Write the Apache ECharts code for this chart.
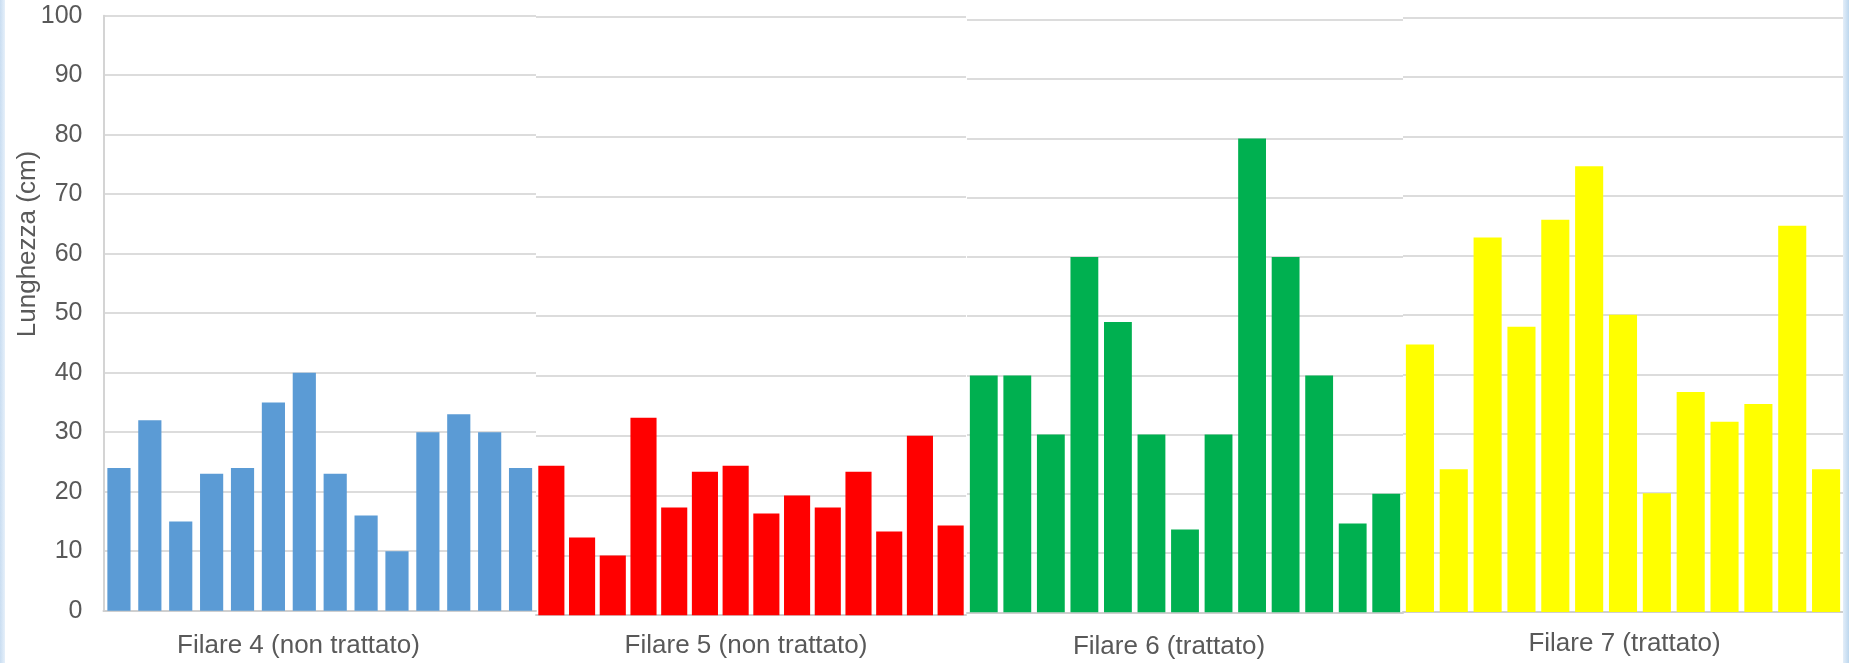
<!DOCTYPE html>
<html>
<head>
<meta charset="utf-8">
<style>
  html, body { margin: 0; padding: 0; background: #ffffff; }
  #chart { width: 1849px; height: 663px; }
</style>
<script src="https://cdn.jsdelivr.net/npm/echarts@6/dist/echarts.min.js"></script>
</head>
<body>
<div id="chart"></div>
<script>
// ---- Data ----
const groupLabels = ['Filare 4 (non trattato)', 'Filare 5 (non trattato)', 'Filare 6 (trattato)', 'Filare 7 (trattato)'];
const filare4 = [24, 32, 15, 23, 24, 35, 40, 23, 16, 10, 30, 33, 30, 24];
const filare5 = [25, 13, 10, 33, 18, 24, 25, 17, 20, 18, 24, 14, 30, 15];
const filare6 = [40, 40, 30, 60, 49, 30, 14, 30, 80, 60, 40, 15, 20];
const filare7 = [45, 24, 63, 48, 66, 75, 50, 20, 37, 32, 35, 65, 24];
const yMin = 0, yMax = 100, yInterval = 10;
const yAxisTitle = 'Lunghezza (cm)';

// ---- Layout / style (not data) ----
const seriesData = [filare4, filare5, filare6, filare7];
const colors = ['#5B9BD5', '#FF0000', '#00B050', '#FFFF00'];
const grids = [
  { left: 103.5, top: 15.7, width: 432.5, height: 595 },
  { left: 536,   top: 17.2, width: 430,   height: 598 },
  { left: 967,   top: 20,   width: 436,   height: 592.3 },
  { left: 1403,  top: 17.7, width: 440,   height: 594.3 }
];
const gaps = ['25%', '15%', '17%', '17%'];
const labelPos = [[298.5, 645.5], [746, 646], [1169, 646.5], [1624.5, 643.5]];
const textColor = '#595959';
const fontFamily = '"Liberation Sans", Arial, sans-serif';

const chart = echarts.init(document.getElementById('chart'), null, { renderer: 'canvas' });

const xAxes = seriesData.map((d, i) => ({
  type: 'category',
  gridIndex: i,
  data: d.map((_, k) => String(k + 1)),
  axisTick: { show: false },
  axisLabel: { show: false },
  axisLine: { show: true, lineStyle: { color: '#CFCFCF', width: 2 } }
}));

const yAxes = seriesData.map((d, i) => ({
  type: 'value',
  gridIndex: i,
  min: yMin, max: yMax, interval: yInterval,
  axisTick: { show: false },
  axisLine: { show: i === 0, lineStyle: { color: '#D4D4D4', width: 2 } },
  axisLabel: {
    show: i === 0,
    margin: 21,
    color: textColor,
    fontSize: 25,
    fontFamily: fontFamily
  },
  splitLine: { show: true, lineStyle: { color: '#DCDCDC', width: 2 } }
}));

const series = seriesData.map((d, i) => ({
  type: 'bar',
  xAxisIndex: i,
  yAxisIndex: i,
  data: d,
  barCategoryGap: gaps[i],
  itemStyle: { color: colors[i] },
  z: 3
}));

const graphics = [
  {
    type: 'rect', shape: { x: 0, y: 0, width: 5, height: 663 }, z: 10,
    style: { fill: new echarts.graphic.LinearGradient(0, 0, 1, 0, [
      { offset: 0, color: '#C9DDF1' }, { offset: 1, color: '#E6F0FA' }]) }
  },
  {
    type: 'rect', shape: { x: 1843, y: 0, width: 6, height: 663 }, z: 10,
    style: { fill: new echarts.graphic.LinearGradient(0, 0, 1, 0, [
      { offset: 0, color: '#E3EEF9' }, { offset: 1, color: '#BDD7EE' }]) }
  },
  {
    type: 'text',
    x: 28, y: 244,
    rotation: Math.PI / 2,
    style: {
      text: yAxisTitle,
      fill: textColor,
      font: '26px ' + fontFamily,
      textAlign: 'center',
      textVerticalAlign: 'middle'
    }
  }
].concat(groupLabels.map((t, i) => ({
  type: 'text',
  x: labelPos[i][0], y: labelPos[i][1],
  style: {
    text: t,
    fill: textColor,
    font: '26px ' + fontFamily,
    textAlign: 'center',
    textVerticalAlign: 'middle'
  }
})));

chart.setOption({
  animation: false,
  backgroundColor: '#ffffff',
  grid: grids,
  xAxis: xAxes,
  yAxis: yAxes,
  series: series,
  graphic: graphics
});
</script>
</body>
</html>
